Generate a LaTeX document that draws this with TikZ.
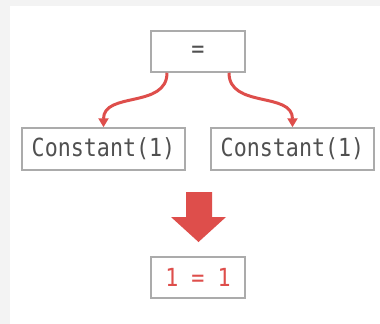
\documentclass[tikz,border=0pt]{standalone}
\usepackage{fontspec}
\setmonofont[FakeStretch=0.87]{DejaVu Sans Mono}
\usetikzlibrary{arrows.meta}
\definecolor{exprred}{HTML}{DE4E4B}
\definecolor{boxgrey}{HTML}{ABABAB}
\definecolor{textgrey}{HTML}{505050}
\definecolor{pagegrey}{HTML}{F3F3F3}
\tikzset{
  exprbox/.style={draw=boxgrey, line width=1.5bp, fill=white, inner sep=0pt,
    font=\ttfamily\fontsize{25}{25}\selectfont, text=textgrey},
  childlink/.style={draw=exprred, line width=3bp,
    -{Triangle[length=9bp,width=10bp]}, out=-90, in=90, looseness=1.1}
}
\begin{document}
\begin{tikzpicture}[x=1bp,y=-1bp]
  \useasboundingbox (0,0) rectangle (380,324);
  \fill[pagegrey] (0,0) rectangle (380,324);
  \fill[white] (10,6) rectangle (380,324);

  % expression tree
  \node[exprbox, minimum width=94bp, minimum height=41bp] (eq) at (198,51.5) {=};
  \node[exprbox, minimum width=163bp, minimum height=42bp] (lhs) at (103.5,149) {Constant(1)};
  \node[exprbox, minimum width=163bp, minimum height=42bp] (rhs) at (292.5,149) {Constant(1)};

  \draw[childlink] ([xshift=-31bp]eq.south) to (lhs.north);
  \draw[childlink] ([xshift=31bp]eq.south) to (rhs.north);

  % folding step
  \fill[exprred] (186,192) -- (212,192) -- (212,217) -- (226,217)
    -- (198.5,242) -- (171,217) -- (186,217) -- cycle;

  % folded result
  \node[exprbox, text=exprred, minimum width=94bp, minimum height=41bp] (res) at (198,277.5) {1 = 1};
\end{tikzpicture}
\end{document}
